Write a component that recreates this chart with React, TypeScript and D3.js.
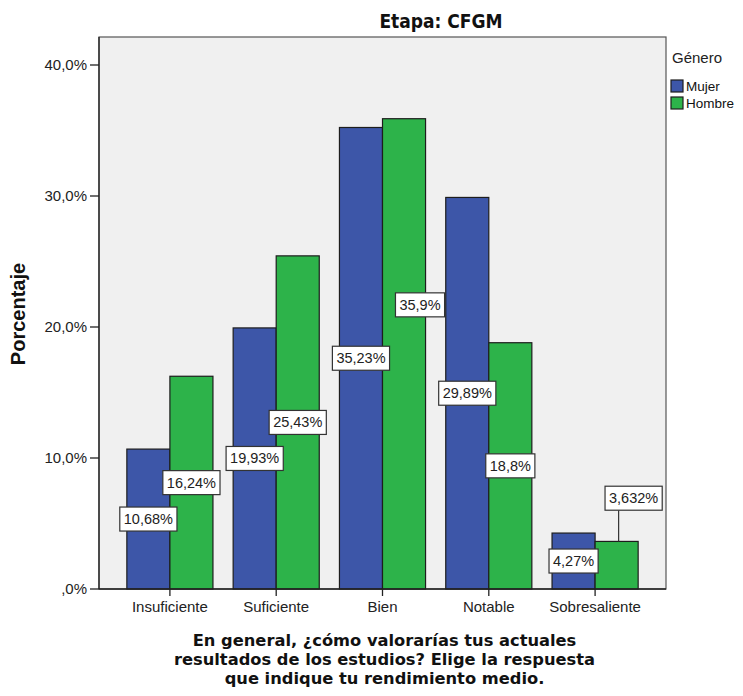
import React from "react";
import * as d3 from "d3";

const categories = ["Insuficiente", "Suficiente", "Bien", "Notable", "Sobresaliente"];
const seriesNames = ["Mujer", "Hombre"];
const mujer = [10.68, 19.93, 35.23, 29.89, 4.27];
const hombre = [16.24, 25.43, 35.9, 18.8, 3.632];
const mujerLabels = ["10,68%", "19,93%", "35,23%", "29,89%", "4,27%"];
const hombreLabels = ["16,24%", "25,43%", "35,9%", "18,8%", "3,632%"];
const yTicks = [0, 10, 20, 30, 40];
const yTickLabels = [",0%", "10,0%", "20,0%", "30,0%", "40,0%"];
const titleLines = [
  "En general, ¿cómo valorarías tus actuales",
  "resultados de los estudios? Elige la respuesta",
  "que indique tu rendimiento medio.",
];

// manual label displacement (pixels), as the original chart's collision avoidance
const labelNudge: Record<string, { dx: number; dy: number; leader?: boolean }> = {
  "Hombre-Bien": { dx: 16, dy: -49 },
  "Hombre-Sobresaliente": { dx: 17, dy: -67, leader: true },
};

const W = 743;
const H = 696;
const left = 99;
const right = 666;
const top = 37;
const bottom = 589;
const colors = ["#3D56A8", "#2DB34A"];
const sans = "'Liberation Sans', Arial, sans-serif";
const wide = "'DejaVu Sans', Verdana, sans-serif";

export default function App() {
  const x = d3.scaleBand<string>().domain(categories).range([left, right]).paddingInner(0.19).paddingOuter(0.262);
  const xs = d3.scaleBand<string>().domain(seriesNames).range([0, x.bandwidth()]).padding(0);
  const y = d3.scaleLinear().domain([0, 40]).range([bottom, bottom - 524]);
  const series = [mujer, hombre];
  const labels = [mujerLabels, hombreLabels];

  const labelFont = 14.5;
  const textW = (s: string) => {
    const m: Record<string, number> = { ",": 0.278, "%": 0.889 };
    let w = 0;
    for (const c of s) w += m[c] ?? 0.556;
    return w * labelFont;
  };

  return (
    <svg width={W} height={H} style={{ position: "absolute", left: 0, top: 0, background: "#fff" }}>
      <text x={441} y={28} textAnchor="middle" fontFamily="'Liberation Sans Narrow', 'DejaVu Sans Condensed', Arial, sans-serif" fontWeight="bold" fontSize={19} fill="#111">
        Etapa: CFGM
      </text>
      <rect x={left} y={top} width={right - left} height={bottom - top} fill="#F0F0F0" stroke="#555" strokeWidth={1.2} />

      {categories.map((c, i) =>
        series.map((s, k) => (
          <rect
            key={c + k}
            x={(x(c) ?? 0) + (xs(seriesNames[k]) ?? 0)}
            y={y(s[i])}
            width={xs.bandwidth()}
            height={y(0) - y(s[i])}
            fill={colors[k]}
            stroke="#1d1d1d"
            strokeWidth={1.2}
          />
        ))
      )}

      {/* axes */}
      <line x1={left} x2={left} y1={top} y2={bottom} stroke="#222" strokeWidth={1.3} />
      <line x1={left} x2={right} y1={bottom} y2={bottom} stroke="#222" strokeWidth={1.3} />
      {yTicks.map((t, i) => (
        <g key={t}>
          <line x1={left - 9} x2={left} y1={y(t)} y2={y(t)} stroke="#222" strokeWidth={1.3} />
          <text x={left - 12} y={y(t) + 5} textAnchor="end" fontFamily={sans} fontSize={15} fill="#222">
            {yTickLabels[i]}
          </text>
        </g>
      ))}
      {categories.map((c) => {
        const cx = (x(c) ?? 0) + x.bandwidth() / 2;
        return (
          <g key={c}>
            <line x1={cx} x2={cx} y1={bottom} y2={bottom + 7} stroke="#222" strokeWidth={1.3} />
            <text x={cx} y={bottom + 23} textAnchor="middle" fontFamily={sans} fontSize={15} fill="#222">
              {c}
            </text>
          </g>
        );
      })}

      {/* value labels */}
      {categories.map((c, i) =>
        series.map((s, k) => {
          const bx = (x(c) ?? 0) + (xs(seriesNames[k]) ?? 0) + xs.bandwidth() / 2;
          const by = y(s[i] / 2);
          const n = labelNudge[seriesNames[k] + "-" + c] ?? { dx: 0, dy: 0 };
          const lx = bx + n.dx;
          const ly = by + n.dy;
          const tw = textW(labels[k][i]);
          const bw = tw + 8;
          const bh = 24;
          return (
            <g key={"l" + c + k}>
              {n.leader && (
                <line x1={lx - 15} x2={lx - 15} y1={ly + bh / 2} y2={y(s[i])} stroke="#333" strokeWidth={1.2} />
              )}
              <rect x={lx - bw / 2} y={ly - bh / 2} width={bw} height={bh} fill="#fff" stroke="#333" strokeWidth={1.2} />
              <text x={lx} y={ly + 5} textAnchor="middle" fontFamily={sans} fontSize={labelFont} fill="#222">
                {labels[k][i]}
              </text>
            </g>
          );
        })
      )}

      {/* legend */}
      <text x={672} y={63} fontFamily={sans} fontSize={15} fill="#222">Género</text>
      {seriesNames.map((s, k) => (
        <g key={s}>
          <rect x={671} y={80 + k * 17} width={12} height={12} fill={colors[k]} stroke="#1d1d1d" strokeWidth={1.2} />
          <text x={686} y={91 + k * 17} fontFamily={sans} fontSize={13.5} fill="#111">{s}</text>
        </g>
      ))}

      {/* y title */}
      <text transform={`translate(25,${(top + bottom) / 2 + 1}) rotate(-90)`} textAnchor="middle" fontFamily={sans} fontWeight="bold" fontSize={20} fill="#111">
        Porcentaje
      </text>

      {/* x title */}
      {titleLines.map((t, i) => (
        <text key={i} x={(left + right) / 2 + 2} y={646 + i * 19} textAnchor="middle" fontFamily={wide} fontWeight="bold" fontSize={16.3} fill="#111">
          {t}
        </text>
      ))}
    </svg>
  );
}
